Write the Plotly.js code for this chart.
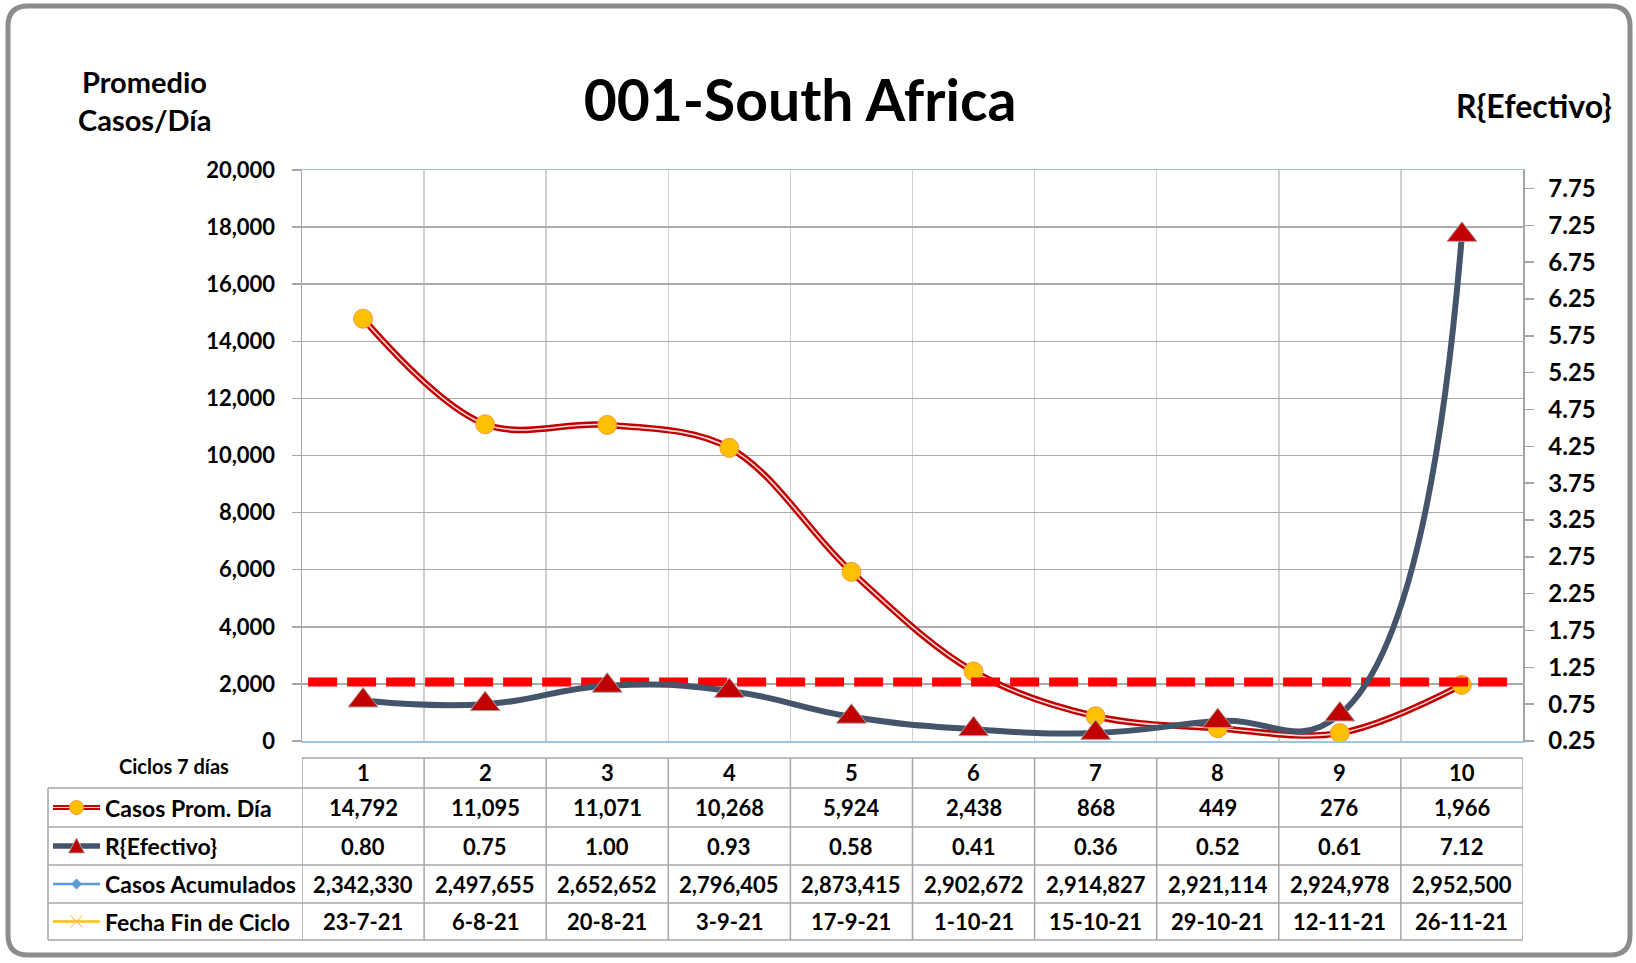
<!DOCTYPE html>
<html>
<head>
<meta charset="utf-8">
<script src="https://cdn.plot.ly/plotly-3.0.1.min.js"></script>
<style>
  html, body { margin: 0; padding: 0; background: #ffffff; }
  #chart { width: 1636px; height: 963px; }
</style>
</head>
<body>
<div id="chart"></div>
<script>
// ---------------- DATA ----------------
const ciclos = [1, 2, 3, 4, 5, 6, 7, 8, 9, 10];
const casosProm = [14792, 11095, 11071, 10268, 5924, 2438, 868, 449, 276, 1966];
const rEfectivo = [0.80, 0.75, 1.00, 0.93, 0.58, 0.41, 0.36, 0.52, 0.61, 7.12];
const casosAcum = [2342330, 2497655, 2652652, 2796405, 2873415, 2902672, 2914827, 2921114, 2924978, 2952500];
const fechaFin = ['23-7-21', '6-8-21', '20-8-21', '3-9-21', '17-9-21', '1-10-21', '15-10-21', '29-10-21', '12-11-21', '26-11-21'];
const rUmbral = 1.05;
const leftTicks = [0, 2000, 4000, 6000, 8000, 10000, 12000, 14000, 16000, 18000, 20000];
const rightTicks = [0.25, 0.75, 1.25, 1.75, 2.25, 2.75, 3.25, 3.75, 4.25, 4.75, 5.25, 5.75, 6.25, 6.75, 7.25, 7.75];
const rowLabels = ['Casos Prom. Día', 'R{Efectivo}', 'Casos Acumulados', 'Fecha Fin de Ciclo'];
const headerLabel = 'Ciclos 7 días';
const chartTitle = '001-South Africa';
const leftTitle = ['Promedio', 'Casos/Día'];
const rightTitle = 'R{Efectivo}';

// ---------------- LAYOUT GEOMETRY (pixels) ----------------
const W = 1636, H = 963;
const plotL = 302, plotR = 1523, plotT = 170, plotB = 741;
const tableL = 48, headTop = 758, rowLines = [788, 827, 865, 903, 940];
const keyX0 = 53, keyX1 = 100;
const FONT = 'Lato, "Open Sans", sans-serif';
const px = v => v / W;
const py = v => 1 - v / H;

const fmtInt = v => v.toLocaleString('en-US');
const fmtR = v => v.toFixed(2);

// ---------------- TRACES ----------------
const traces = [];
traces.push({
  x: ciclos, y: casosProm, yaxis: 'y', xaxis: 'x', type: 'scatter', mode: 'lines',
  line: {color: '#C00000', width: 6.5, shape: 'spline', smoothing: 1},
  hoverinfo: 'skip', showlegend: false
});
traces.push({
  x: ciclos, y: casosProm, yaxis: 'y', xaxis: 'x', type: 'scatter', mode: 'lines+markers',
  name: rowLabels[0],
  line: {color: '#F8DADA', width: 1.6, shape: 'spline', smoothing: 1},
  marker: {symbol: 'circle', size: 19, color: '#FFC000', line: {color: '#F79646', width: 1}},
  cliponaxis: false, showlegend: false
});
const xr = [0.5, 10.5];
traces.push({
  x: [xr[0] + 0.05, xr[1] - 0.09], y: [rUmbral, rUmbral], yaxis: 'y2', xaxis: 'x',
  type: 'scatter', mode: 'lines',
  line: {color: '#FF0000', width: 9, dash: '29px,10px'},
  hoverinfo: 'skip', showlegend: false
});
traces.push({
  x: ciclos, y: rEfectivo, yaxis: 'y2', xaxis: 'x', type: 'scatter', mode: 'lines+markers',
  name: rowLabels[1],
  line: {color: '#44546A', width: 6, shape: 'spline', smoothing: 1.3},
  marker: {symbol: 'triangle-up', size: 26, color: '#C00000', line: {color: '#A6A6A6', width: 1}},
  cliponaxis: false, showlegend: false
});

// ---------------- SHAPES (table grid, keys, frame) ----------------
const shapes = [];
const gridCol = '#A6A6A6';
shapes.push({type: 'line', xref: 'paper', yref: 'paper', x0: px(plotL), x1: px(plotR), y0: py(headTop), y1: py(headTop), line: {color: gridCol, width: 1.5}});
rowLines.forEach(r => {
  shapes.push({type: 'line', xref: 'paper', yref: 'paper', x0: px(tableL), x1: px(plotR), y0: py(r), y1: py(r), line: {color: gridCol, width: 1.5}});
});
for (let i = 0; i <= ciclos.length; i++) {
  const b = ciclos[0] - 0.5 + i;
  shapes.push({type: 'line', xref: 'x', yref: 'paper', x0: b, x1: b, y0: py(headTop), y1: py(rowLines[rowLines.length - 1]), line: {color: gridCol, width: 1.5}});
}
shapes.push({type: 'line', xref: 'paper', yref: 'paper', x0: px(tableL), x1: px(tableL), y0: py(rowLines[0]), y1: py(rowLines[rowLines.length - 1]), line: {color: gridCol, width: 1.5}});

// legend keys
const rowCenters = rowLines.slice(0, -1).map((r, i) => (r + rowLines[i + 1]) / 2);
const keyMid = (keyX0 + keyX1) / 2;
function keyLine(yc, color, width) {
  shapes.push({type: 'line', xref: 'paper', yref: 'paper', x0: px(keyX0), x1: px(keyX1), y0: py(yc), y1: py(yc), line: {color: color, width: width}});
}
keyLine(rowCenters[0], '#C00000', 5);
keyLine(rowCenters[0], '#F8DADA', 1.2);
shapes.push({type: 'circle', xref: 'paper', yref: 'paper', x0: px(keyMid - 7), x1: px(keyMid + 7), y0: py(rowCenters[0] - 7), y1: py(rowCenters[0] + 7), fillcolor: '#FFC000', line: {color: '#F79646', width: 1}});
keyLine(rowCenters[1], '#44546A', 5.5);
shapes.push({type: 'path', xref: 'paper', yref: 'paper',
  path: `M ${px(keyMid - 8)} ${py(rowCenters[1] + 7)} L ${px(keyMid + 8)} ${py(rowCenters[1] + 7)} L ${px(keyMid)} ${py(rowCenters[1] - 8)} Z`,
  fillcolor: '#C00000', line: {color: '#A6A6A6', width: 1}});
keyLine(rowCenters[2], '#5B9BD5', 2.5);
shapes.push({type: 'path', xref: 'paper', yref: 'paper',
  path: `M ${px(keyMid - 5)} ${py(rowCenters[2])} L ${px(keyMid)} ${py(rowCenters[2] - 5)} L ${px(keyMid + 5)} ${py(rowCenters[2])} L ${px(keyMid)} ${py(rowCenters[2] + 5)} Z`,
  fillcolor: '#5B9BD5', line: {color: '#5B9BD5', width: 1}});
keyLine(rowCenters[3], '#FFC000', 2.5);
shapes.push({type: 'line', xref: 'paper', yref: 'paper', x0: px(keyMid - 6), x1: px(keyMid + 6), y0: py(rowCenters[3] - 6), y1: py(rowCenters[3] + 6), line: {color: '#FFC000', width: 1}});
shapes.push({type: 'line', xref: 'paper', yref: 'paper', x0: px(keyMid - 6), x1: px(keyMid + 6), y0: py(rowCenters[3] + 6), y1: py(rowCenters[3] - 6), line: {color: '#FFC000', width: 1}});

// outer rounded frame
(function () {
  const l = 8, t = 6, r = 1630, b = 955, rad = 20;
  const p = `M ${px(l + rad)} ${py(t)} L ${px(r - rad)} ${py(t)} Q ${px(r)} ${py(t)} ${px(r)} ${py(t + rad)} ` +
            `L ${px(r)} ${py(b - rad)} Q ${px(r)} ${py(b)} ${px(r - rad)} ${py(b)} ` +
            `L ${px(l + rad)} ${py(b)} Q ${px(l)} ${py(b)} ${px(l)} ${py(b - rad)} ` +
            `L ${px(l)} ${py(t + rad)} Q ${px(l)} ${py(t)} ${px(l + rad)} ${py(t)} Z`;
  shapes.push({type: 'path', xref: 'paper', yref: 'paper', path: p, line: {color: '#8C8C8C', width: 5}, fillcolor: 'rgba(0,0,0,0)'});
})();

// ---------------- ANNOTATIONS ----------------
const ann = [];
const cellFont = {family: FONT, size: 22, color: '#000', weight: 'bold'};
const labelFont = {family: FONT, size: 23, color: '#000', weight: 'bold'};
const headMid = (headTop + rowLines[0]) / 2;
ciclos.forEach((c, i) => {
  ann.push({x: c, xref: 'x', y: py(headMid - 1), yref: 'paper', text: String(c), showarrow: false, font: cellFont, xanchor: 'center', yanchor: 'middle'});
  const vals = [fmtInt(casosProm[i]), fmtR(rEfectivo[i]), fmtInt(casosAcum[i]), fechaFin[i]];
  vals.forEach((v, k) => {
    ann.push({x: c, xref: 'x', y: py(rowCenters[k]), yref: 'paper', text: v, showarrow: false, font: cellFont, xanchor: 'center', yanchor: 'middle'});
  });
});
rowLabels.forEach((lab, k) => {
  ann.push({x: px(keyX1 + 3), xref: 'paper', y: py(rowCenters[k]), yref: 'paper', text: lab, showarrow: false, font: labelFont, xanchor: 'left', yanchor: 'middle'});
});
ann.push({x: px(174), xref: 'paper', y: py(766), yref: 'paper', text: headerLabel, showarrow: false, font: {family: FONT, size: 20, color: '#000', weight: 'bold'}, xanchor: 'center', yanchor: 'middle'});
ann.push({x: px(144), xref: 'paper', y: py(82), yref: 'paper', text: leftTitle[0], showarrow: false, font: {family: FONT, size: 29, color: '#000', weight: 'bold'}, xanchor: 'center', yanchor: 'middle'});
ann.push({x: px(144), xref: 'paper', y: py(119), yref: 'paper', text: leftTitle[1], showarrow: false, font: {family: FONT, size: 29, color: '#000', weight: 'bold'}, xanchor: 'center', yanchor: 'middle'});
ann.push({x: px(1534), xref: 'paper', y: py(106), yref: 'paper', text: rightTitle, showarrow: false, font: {family: FONT, size: 32, color: '#000', weight: 'bold'}, xanchor: 'center', yanchor: 'middle'});

// ---------------- LAYOUT ----------------
const tickFont = {family: FONT, size: 22, color: '#000', weight: 'bold'};
const tickFontR = {family: FONT, size: 24, color: '#000', weight: 'bold'};
const bounds = [];
for (let i = 0; i <= ciclos.length; i++) bounds.push(ciclos[0] - 0.5 + i);

const layout = {
  width: W, height: H, autosize: false,
  margin: {l: 0, r: 0, t: 0, b: 0, pad: 0},
  paper_bgcolor: '#ffffff', plot_bgcolor: '#ffffff',
  showlegend: false,
  title: {text: chartTitle, font: {family: FONT, size: 57, color: '#000', weight: 'bold'},
          x: px(800), xref: 'container', xanchor: 'center', y: py(101), yref: 'container', yanchor: 'middle'},
  xaxis: {
    domain: [px(plotL), px(plotR)], range: xr, fixedrange: true,
    tickmode: 'array', tickvals: bounds, showticklabels: false, ticks: '',
    showgrid: true, gridcolor: '#D0D0D0', gridwidth: 1.5,
    showline: true, linecolor: '#9DC3E6', linewidth: 1.5, mirror: true,
    zeroline: false, automargin: false
  },
  yaxis: {
    domain: [py(plotB), py(plotT)], range: [leftTicks[0], leftTicks[leftTicks.length - 1]],
    tickmode: 'array', tickvals: leftTicks, ticktext: leftTicks.map(fmtInt),
    ticks: 'outside', ticklen: 9, tickwidth: 1.5, tickcolor: '#A6A6A6',
    ticklabelstandoff: 12,
    tickfont: tickFont,
    showgrid: true, gridcolor: '#ABABAB', gridwidth: 1.5,
    showline: true, linecolor: '#A6A6A6', linewidth: 1.5,
    zeroline: false, automargin: false, fixedrange: true
  },
  yaxis2: {
    overlaying: 'y', side: 'right', anchor: 'x',
    range: [0.25, 8],
    tickmode: 'array', tickvals: rightTicks, ticktext: rightTicks.map(fmtR),
    ticks: 'outside', ticklen: 9, tickwidth: 1.5, tickcolor: '#A6A6A6',
    ticklabelstandoff: 10,
    tickfont: tickFontR,
    showgrid: false, showline: true, linecolor: '#A6A6A6', linewidth: 1.5,
    zeroline: false, automargin: false, fixedrange: true
  },
  shapes: shapes,
  annotations: ann
};

Plotly.newPlot('chart', traces, layout, {displayModeBar: false, staticPlot: true});
</script>
</body>
</html>
